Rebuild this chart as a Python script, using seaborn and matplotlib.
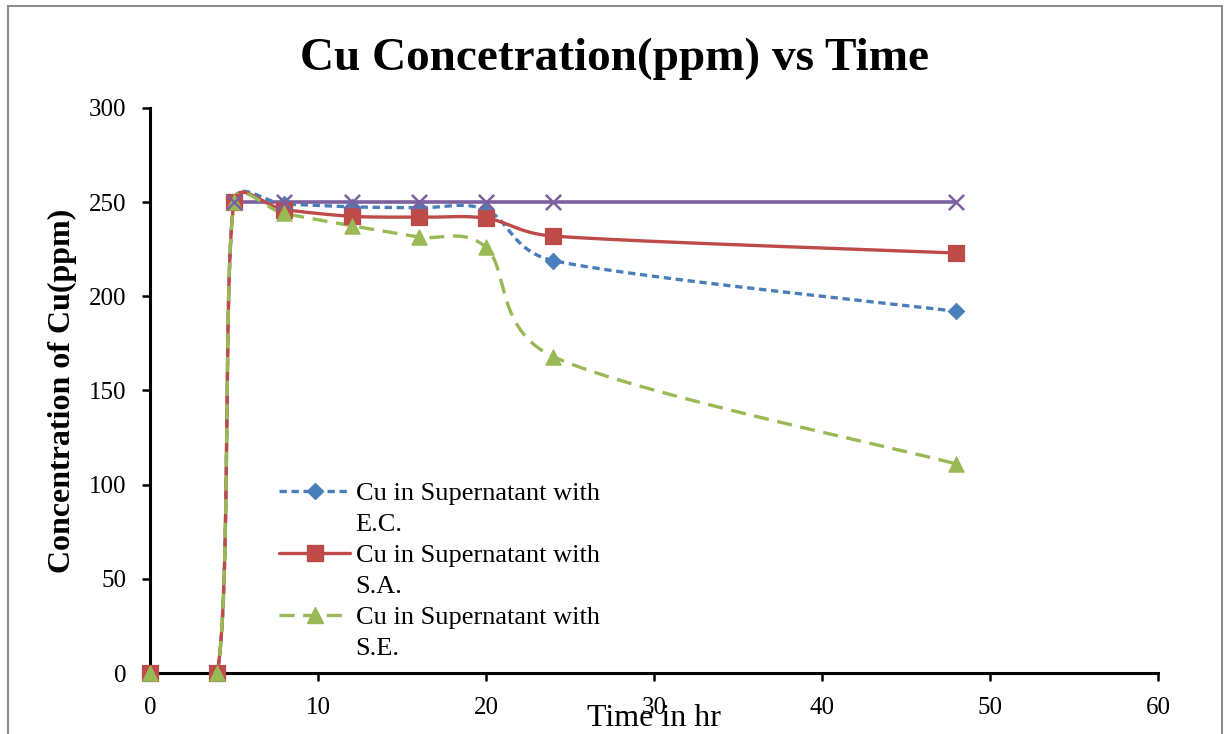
import numpy as np
import pandas as pd
import matplotlib
matplotlib.use("Agg")
import matplotlib.pyplot as plt
from matplotlib.lines import Line2D
from matplotlib.patches import Rectangle
from matplotlib.legend_handler import HandlerLine2D
import seaborn as sns

# ---- data ----
time_hr = [0, 4, 5, 8, 12, 16, 20, 24, 48]
cu_ec = [0, 0, 250, 249, 247.5, 247, 246, 219, 192]
cu_sa = [0, 0, 250, 246, 242.5, 242, 241.5, 232, 223]
cu_se = [0, 0, 250, 244, 237.5, 231.5, 226, 168, 111]
time_init = [5, 8, 12, 16, 20, 24, 48]
cu_init = [250, 250, 250, 250, 250, 250, 250]
labels = ["Cu in Supernatant with\nE.C.", "Cu in Supernatant with\nS.A.", "Cu in Supernatant with\nS.E."]
x_ticks = [0, 10, 20, 30, 40, 50, 60]
y_ticks = [0, 50, 100, 150, 200, 250, 300]

XLIM = (0, 60)
YLIM = (0, 300)
AX_W_PX, AX_H_PX = 1008, 565
KX = AX_W_PX / (XLIM[1] - XLIM[0])
KY = AX_H_PX / (YLIM[1] - YLIM[0])


def smooth(xs, ys, n=60):
    """Excel-like smoothed line: Bezier segments through the points (screen space)."""
    P = np.column_stack([np.asarray(xs, float) * KX, np.asarray(ys, float) * KY])
    out = []
    for i in range(len(P) - 1):
        p0 = P[i - 1] if i > 0 else P[i]
        p1, p2 = P[i], P[i + 1]
        p3 = P[i + 2] if i + 2 < len(P) else P[i + 1]
        d = np.linalg.norm(p2 - p1)
        t1 = (p2 - p0) / 6.0
        t2 = (p3 - p1) / 6.0
        for tv in (t1, t2):
            L = np.linalg.norm(tv)
            if L > d / 2 and L > 0:
                tv *= (d / 2) / L
        c1 = p1 + t1
        c2 = p2 - t2
        t = np.linspace(0, 1, n)[:, None]
        seg = ((1 - t) ** 3) * p1 + 3 * ((1 - t) ** 2) * t * c1 + 3 * (1 - t) * t ** 2 * c2 + t ** 3 * p2
        out.append(seg if i == 0 else seg[1:])
    s = np.vstack(out)
    return s[:, 0] / KX, s[:, 1] / KY


class ShiftedHandler(HandlerLine2D):
    def __init__(self, shift, **kw):
        super().__init__(**kw)
        self.shift = shift

    def create_artists(self, legend, orig_handle, xdescent, ydescent, width, height, fontsize, trans):
        arts = super().create_artists(legend, orig_handle, xdescent, ydescent, width, height, fontsize, trans)
        for a in arts:
            a.set_ydata(np.asarray(a.get_ydata(), float) + self.shift)
        return arts


sns.set_theme(style="white", rc={"text.color": "black", "axes.labelcolor": "black",
                                 "xtick.color": "black", "ytick.color": "black"})
plt.rcParams["font.family"] = ["Liberation Serif", "DejaVu Serif"]

fig = plt.figure(figsize=(12.3, 7.34), dpi=100)
ax = fig.add_axes([150 / 1230, 1 - 673 / 734, AX_W_PX / 1230, AX_H_PX / 734])

# outer chart border
fig.patches.append(Rectangle((8 / 1230, -0.05), (1222 - 8) / 1230, 1.05 - 6 / 734,
                             transform=fig.transFigure, fill=False, edgecolor="#8c8c8c", lw=1.5))

blue, red, green, purple = "#4A7EBB", "#BE4B48", "#98B954", "#7D60A0"

# purple reference line
sx, sy = smooth(time_init, cu_init)
sns.lineplot(x=sx, y=sy, ax=ax, color=purple, lw=2.6, sort=False, estimator=None)
sns.scatterplot(x=time_init, y=cu_init, ax=ax, marker="x", s=120, color=purple, linewidth=1.8,
                zorder=5, clip_on=False)

series = [
    (cu_ec, blue, (0, (2.2, 1.4)), "D", 70),
    (cu_sa, red, "-", "s", 120),
    (cu_se, green, (0, (4.5, 2.6)), "^", 120),
]
handles = []
for ys, col, ls, mk, ms in series:
    sx, sy = smooth(time_hr, ys)
    sns.lineplot(x=sx, y=sy, ax=ax, color=col, lw=2.4, linestyle=ls, sort=False, estimator=None)
    sns.scatterplot(x=time_hr, y=ys, ax=ax, marker=mk, s=ms, color=col, edgecolor=col, zorder=4,
                    clip_on=False)
    handles.append(Line2D([], [], color=col, lw=2.4, linestyle=ls, marker=mk,
                          markersize=np.sqrt(ms), markerfacecolor=col, markeredgecolor=col))

ax.set_xlim(*XLIM)
ax.set_ylim(*YLIM)
ax.set_xticks(x_ticks)
ax.set_yticks(y_ticks)
ax.tick_params(axis="both", labelsize=18, direction="out", length=6, width=1.8,
               bottom=True, left=True, color="black")
ax.tick_params(axis="x", pad=11)
ax.tick_params(axis="y", pad=11)
for s in ["top", "right"]:
    ax.spines[s].set_visible(False)
for s in ["left", "bottom"]:
    ax.spines[s].set_color("black")
    ax.spines[s].set_linewidth(2.2)
    ax.spines[s].set_zorder(0)

fig.text(0.5, 1 - 59 / 734, "Cu Concetration(ppm) vs Time", fontsize=34, fontweight="bold",
         ha="center", va="center")
ax.set_ylabel("Concentration of Cu(ppm)", fontsize=23, fontweight="bold")
ax.yaxis.label.set_va("center")
ax.yaxis.set_label_coords((62 - 150) / AX_W_PX, 0.5)
ax.set_xlabel("Time in hr", fontsize=23)
ax.xaxis.label.set_va("center")
ax.xaxis.set_label_coords(0.5, (673 - 718) / AX_H_PX)

leg = ax.legend(handles, labels, loc="upper left",
                bbox_to_anchor=((279 - 150) / AX_W_PX, (673 - 483) / AX_H_PX),
                frameon=False, fontsize=19, handlelength=2.7, handletextpad=0.2,
                labelspacing=0.33, borderaxespad=0, borderpad=0,
                handler_map={h: ShiftedHandler(12.5) for h in handles})
for t in leg.get_texts():
    t.set_linespacing(1.54)

fig.savefig("out.png", dpi=100)
